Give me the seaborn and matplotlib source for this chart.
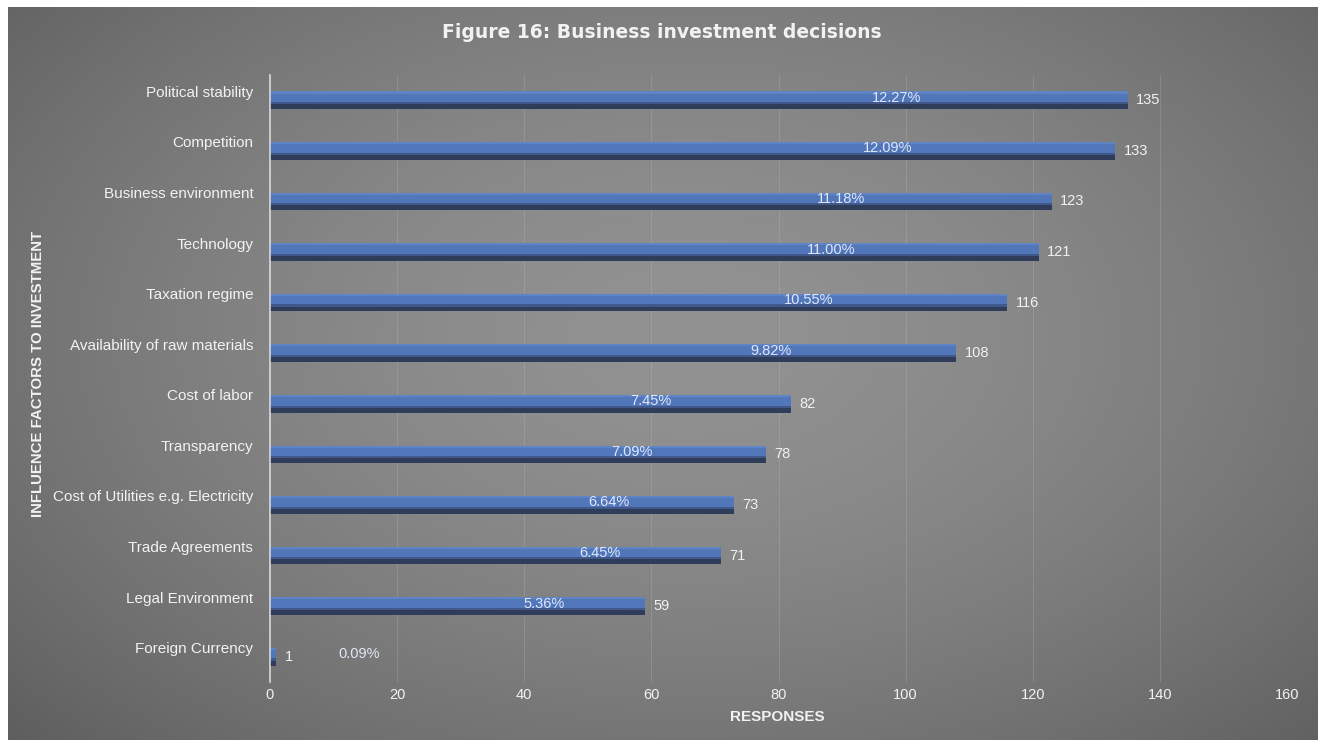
import numpy as np
import pandas as pd
import matplotlib
matplotlib.use("Agg")
import matplotlib.pyplot as plt
from matplotlib.patches import Rectangle
from matplotlib.transforms import ScaledTranslation
import seaborn as sns

factors = [
    "Political stability", "Competition", "Business environment", "Technology",
    "Taxation regime", "Availability of raw materials", "Cost of labor",
    "Transparency", "Cost of Utilities e.g. Electricity", "Trade Agreements",
    "Legal Environment", "Foreign Currency",
]
responses = [135, 133, 123, 121, 116, 108, 82, 78, 73, 71, 59, 1]
percent_labels = ["12.27%", "12.09%", "11.18%", "11.00%", "10.55%", "9.82%",
                  "7.45%", "7.09%", "6.64%", "6.45%", "5.36%", "0.09%"]
x_ticks = [0, 20, 40, 60, 80, 100, 120, 140, 160]

df = pd.DataFrame({"factor": factors, "responses": responses, "pct": percent_labels})

sns.set_theme(style="white")
plt.rcParams["font.family"] = ["Liberation Sans", "DejaVu Sans"]

W, H = 1324, 747
fig = plt.figure(figsize=(W / 100, H / 100), dpi=100)
fig.patch.set_facecolor("white")

# dark grey panel with a soft radial highlight
bg = fig.add_axes([8 / W, 7 / H, 1310 / W, 733 / H], zorder=-5)
yy, xx = np.mgrid[0:1:300j, 0:1:500j]
r = np.sqrt(((xx - 0.52) / 0.8) ** 2 + ((yy - 0.45) / 0.9) ** 2)
shade = np.clip(146 - 62 * r ** 1.6, 82, 148) / 255.0
bg.imshow(np.dstack([shade, shade, shade]), aspect="auto", extent=[0, 1, 0, 1],
          interpolation="bicubic")
bg.set_axis_off()

ax = fig.add_axes([270 / W, 1 - 682 / H, 1017 / W, 607 / H])
ax.set_facecolor("none")

sns.barplot(data=df, y="factor", x="responses", orient="h", ax=ax,
            color="#5276ba", width=0.35, linewidth=0, saturation=1)

# shaded lower part of each bar (mid tone, then dark edge)
for p in list(ax.patches):
    h = p.get_height()
    x0, y0, w = p.get_x(), p.get_y(), p.get_width()
    ax.add_patch(Rectangle((x0, y0), w, 0.12 * h, facecolor="#5f84c6",
                           edgecolor="none", zorder=p.get_zorder()))
    ax.add_patch(Rectangle((x0, y0 + 0.6 * h), w, 0.12 * h, facecolor="#41598a",
                           edgecolor="none", zorder=p.get_zorder()))
    ax.add_patch(Rectangle((x0, y0 + 0.72 * h), w, 0.28 * h, facecolor="#2f3c5a",
                           edgecolor="none", zorder=p.get_zorder()))

ax.set_xlim(0, 160)
ax.set_xticks(x_ticks)
ax.set_xticklabels([str(t) for t in x_ticks])
ax.set_ylim(len(factors) - 0.5, -0.5)

ax.grid(axis="x", color="#c8c8c8", alpha=0.22, linewidth=0.8)
ax.set_axisbelow(True)
for name, s in ax.spines.items():
    s.set_visible(name == "left")
ax.spines["left"].set_color("#d8d8d8")
ax.spines["left"].set_linewidth(1.2)

ax.tick_params(axis="both", length=0, colors="#f2f2f2", labelsize=10.5)
ax.tick_params(axis="y", labelsize=11, pad=12)
ax.tick_params(axis="x", pad=4)
lift = ScaledTranslation(0, 0.09, fig.dpi_scale_trans)
for lab in ax.get_yticklabels():
    lab.set_transform(lab.get_transform() + lift)

ax.set_xlabel("")
ax.set_ylabel("")

# value and share labels
for i, (v, p) in enumerate(zip(responses, percent_labels)):
    ax.text(v + 1.3, i, str(v), va="center", ha="left", color="#f2f2f2", fontsize=10.5)
    px = max(0.73 * v, 14)
    ax.text(px, i - 0.05, p, va="center", ha="center", color="#dfe7f7", fontsize=10.5)

fig.text(662 / W, 1 - 33 / H, "Figure 16: Business investment decisions",
         ha="center", va="center", color="#f2f2f2", fontsize=13.5,
         fontweight="bold", family="DejaVu Sans")
fig.text(38 / W, 1 - 374 / H, "INFLUENCE FACTORS TO INVESTMENT", rotation=90,
         ha="center", va="center", color="#f2f2f2", fontsize=10.8,
         fontweight="bold")
fig.text(777 / W, 1 - 717 / H, "RESPONSES", ha="center", va="center",
         color="#f2f2f2", fontsize=11, fontweight="bold")

fig.savefig("out.png", dpi=100, facecolor="white")
